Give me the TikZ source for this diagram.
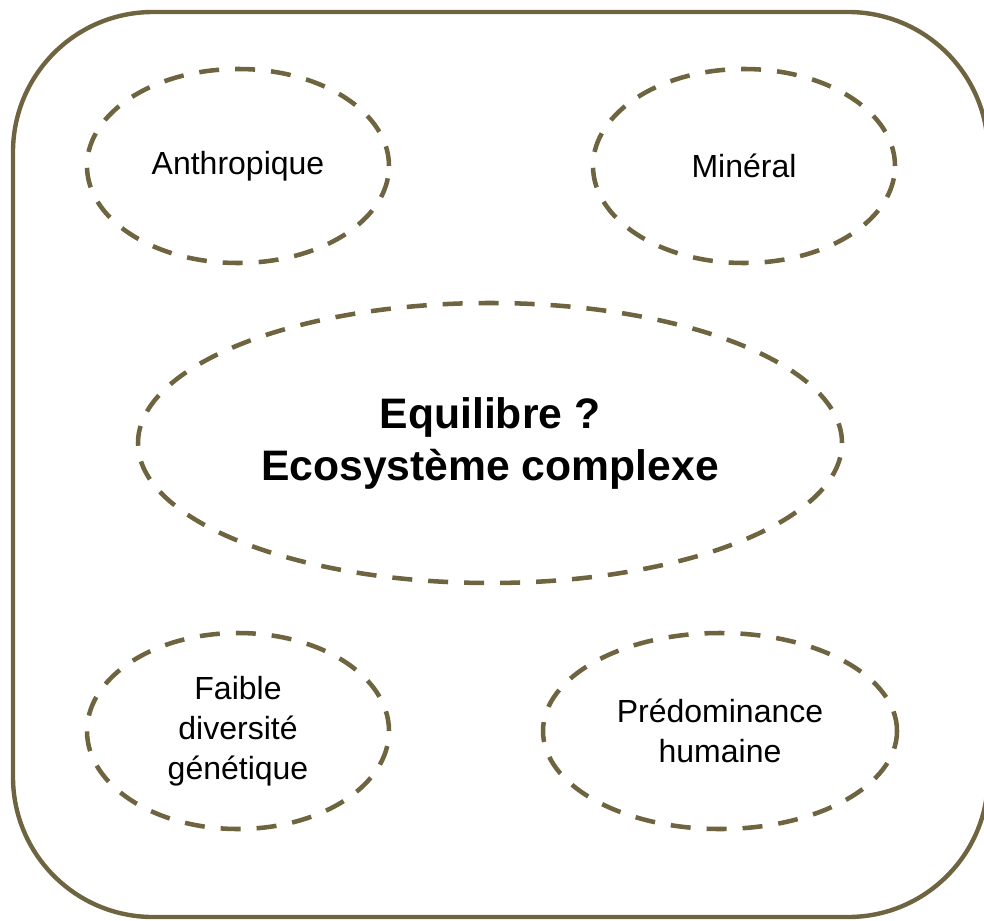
\documentclass[tikz,border=0pt]{standalone}
\usepackage{fontspec}
\setmainfont{Liberation Sans}
\usetikzlibrary{shapes.geometric}
\definecolor{oliveline}{RGB}{110,100,64}
\begin{document}
\begin{tikzpicture}[x=0.75pt,y=-0.75pt,
  bubble/.style={ellipse, draw=oliveline, line width=3.4pt, dash pattern=on 15pt off 12pt, inner sep=0pt, align=center, font=\fontsize{24}{30}\selectfont},
  frame/.style={draw=oliveline, line width=3.3pt, rounded corners=105pt}]
\useasboundingbox (0,0) rectangle (984,920);
\draw[frame] (13,12) rectangle (988,917);
\node[bubble, minimum width=226.5pt, minimum height=145.5pt] (anth) at (238,166) {Anthropique};
\node[bubble, minimum width=226.5pt, minimum height=145.5pt] (min) at (744,166) {Minéral};
\node[bubble, minimum width=528pt, minimum height=210pt, font=\fontsize{32}{39}\selectfont\bfseries] (eq) at (490,443) {Equilibre ?\\Ecosystème complexe};
\node[bubble, minimum width=226.5pt, minimum height=147pt] (faible) at (238,731) {Faible\\diversité\\génétique};
\node[bubble, minimum width=265.5pt, minimum height=147pt] (pred) at (720,731) {Prédominance\\humaine};
\end{tikzpicture}
\end{document}
